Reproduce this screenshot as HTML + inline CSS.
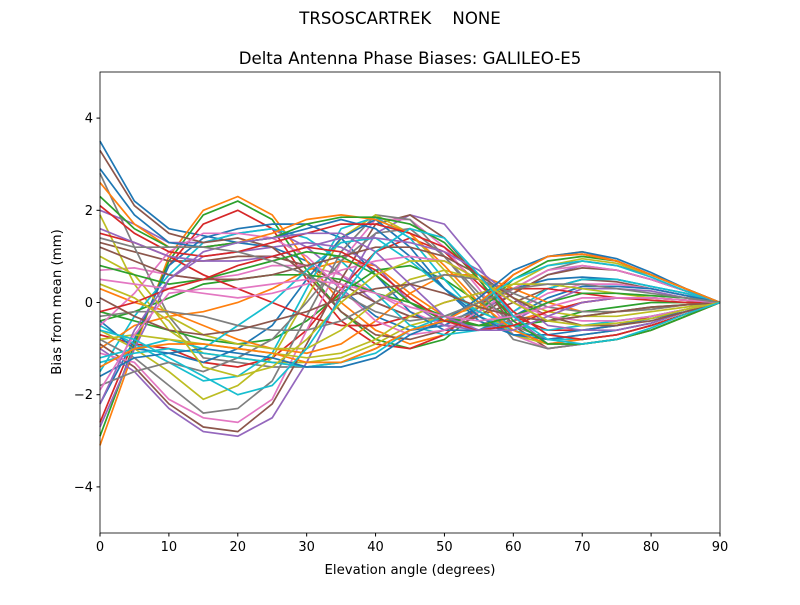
<!DOCTYPE html>
<html><head><meta charset="utf-8"><style>
body{margin:0;background:#fff}
svg{font-family:"DejaVu Sans","Liberation Sans",sans-serif}
</style></head><body>
<svg id="chart" width="800" height="600" viewBox="0 0 800 600">
<rect width="800" height="600" fill="#fff"/>
<text x="400" y="24" text-anchor="middle" font-size="16.6" style="white-space:pre">TRSOSCARTREK    NONE</text>
<text x="410" y="64" text-anchor="middle" font-size="16.6">Delta Antenna Phase Biases: GALILEO-E5</text>
<g id="plot"></g>
<g id="axes"></g>
<text x="410" y="574" text-anchor="middle" font-size="13.3">Elevation angle (degrees)</text>
<text transform="translate(61,302) rotate(-90)" text-anchor="middle" font-size="13.3">Bias from mean (mm)</text>
</svg>
<script>
const elevations=[0,5,10,15,20,25,30,35,40,45,50,55,60,65,70,75,80,85,90];
const xTicks=[0,10,20,30,40,50,60,70,80,90];
const yTicks=[-4,-2,0,2,4];
const s1=[3.5,2.2,1.6,1.45,1.3,1.2,0.9,0.3,-0.3,-0.6,-0.5,-0.1,0.3,0.5,0.55,0.5,0.35,0.2,0];
const s2=[-3.1,-1.0,1.0,2.0,2.3,1.9,0.9,0.0,-0.6,-0.9,-0.7,-0.1,0.6,1.0,1.1,0.9,0.6,0.3,0];
const s3=[-2.9,-0.9,0.9,1.9,2.2,1.8,0.7,-0.2,-0.8,-1.0,-0.8,-0.2,0.5,0.9,1.0,0.9,0.6,0.3,0];
const s4=[-2.6,-0.8,0.8,1.7,2.0,1.6,0.5,-0.4,-0.9,-1.0,-0.7,-0.1,0.6,1.0,1.05,0.9,0.6,0.3,0];
const s5=[2.0,1.7,1.3,1.3,1.5,1.6,1.2,0.6,0.0,-0.3,-0.4,-0.2,0.2,0.6,0.8,0.7,0.5,0.25,0];
const s6=[1.3,1.1,0.9,0.9,1.0,1.0,0.8,0.4,0.0,-0.3,-0.4,-0.3,0.0,0.3,0.5,0.45,0.3,0.15,0];
const s7=[0.7,0.75,0.6,0.5,0.6,0.8,0.8,0.6,0.2,-0.2,-0.5,-0.5,-0.2,0.2,0.4,0.4,0.3,0.15,0];
const s8=[2.8,1.2,-0.3,-1.2,-1.3,-1.4,-1.4,-1.3,-1.0,-0.6,-0.4,-0.2,0.3,0.7,0.9,0.8,0.6,0.3,0];
const s9=[1.9,0.4,-0.6,-1.1,-1.2,-1.3,-1.3,-1.2,-0.9,-0.5,-0.3,-0.1,0.4,0.8,0.95,0.85,0.6,0.3,0];
const s10=[-1.5,-0.3,0.6,1.3,1.5,1.6,1.4,0.9,0.2,-0.5,-0.7,-0.6,-0.2,0.3,0.5,0.5,0.35,0.2,0];
const s11=[-2.2,-0.8,0.8,1.4,1.6,1.7,1.7,1.4,0.6,-0.2,-0.6,-0.6,-0.3,0.1,0.35,0.35,0.3,0.15,0];
const s12=[-1.0,-0.5,-0.3,-0.2,0.0,0.3,0.7,0.9,0.8,0.2,-0.3,-0.5,-0.4,-0.2,0.0,0.1,0.1,0.05,0];
const s13=[-0.2,-0.4,-0.6,-0.8,-0.9,-0.8,-0.4,0.2,0.7,0.8,0.5,0.0,-0.3,-0.4,-0.3,-0.2,-0.1,-0.05,0];
const s14=[-0.7,-0.9,-1.0,-1.3,-1.4,-1.2,-0.6,0.3,1.1,1.4,1.1,0.4,-0.3,-0.6,-0.6,-0.5,-0.3,-0.15,0];
const s15=[-1.0,-1.5,-2.3,-2.8,-2.9,-2.5,-1.3,0.2,1.5,1.9,1.7,0.8,-0.3,-0.9,-0.8,-0.7,-0.5,-0.25,0];
const s16=[-0.9,-1.4,-2.2,-2.7,-2.8,-2.2,-0.9,0.5,1.7,1.9,1.4,0.5,-0.5,-1.0,-0.9,-0.8,-0.6,-0.3,0];
const s17=[-1.1,-1.3,-2.1,-2.5,-2.6,-2.1,-0.6,0.9,1.8,1.8,1.2,0.3,-0.7,-1.0,-0.9,-0.8,-0.6,-0.3,0];
const s18=[-0.8,-1.2,-1.8,-2.4,-2.3,-1.7,-0.3,1.1,1.9,1.8,1.0,0.1,-0.8,-1.0,-0.9,-0.8,-0.6,-0.3,0];
const s19=[-0.6,-1.0,-1.5,-2.1,-1.8,-1.2,0.1,1.4,1.9,1.5,0.7,-0.1,-0.7,-0.9,-0.9,-0.8,-0.6,-0.3,0];
const s20=[-0.5,-0.9,-1.3,-1.7,-1.6,-1.1,0.3,1.6,1.85,1.4,0.5,-0.3,-0.6,-0.8,-0.8,-0.7,-0.5,-0.25,0];
const s21=[-0.4,-1.0,-1.1,-1.3,-1.0,-0.5,0.5,1.4,1.8,1.2,0.3,-0.4,-0.7,-0.7,-0.6,-0.5,-0.35,-0.2,0];
const s22=[0.3,0.0,-0.2,-0.5,-0.8,-1.0,-1.1,-0.9,-0.4,0.2,0.6,0.6,0.3,0.0,-0.2,-0.2,-0.15,-0.05,0];
const s23=[-0.4,-0.2,0.1,0.4,0.5,0.6,0.6,0.5,0.2,0.0,-0.3,-0.5,-0.5,-0.4,-0.2,-0.1,0,0,0];
const s24=[1.5,1.3,1.0,0.6,0.3,0.0,-0.3,-0.5,-0.5,-0.3,0.0,0.2,0.3,0.3,0.2,0.1,0.05,0.0,0];
const s25=[-2.7,-1.0,0.5,1.0,1.1,1.2,1.3,1.2,0.8,0.0,-0.5,-0.6,-0.4,0.0,0.3,0.3,0.25,0.1,0];
const s26=[3.3,2.1,1.5,1.3,1.4,1.2,0.6,-0.2,-0.7,-0.8,-0.6,-0.3,0.2,0.6,0.75,0.7,0.5,0.25,0];
const s27=[-0.5,0.2,1.1,1.5,1.5,1.4,1.0,0.3,-0.4,-0.7,-0.6,-0.2,0.3,0.7,0.8,0.7,0.5,0.25,0];
const s28=[-1.8,-1.5,-1.3,-1.5,-1.2,-0.8,0.0,0.9,1.5,1.6,1.0,0.2,-0.5,-0.8,-0.7,-0.6,-0.45,-0.2,0];
const s29=[1.0,0.6,-0.3,-0.7,-0.9,-1.0,-1.0,-0.6,0.0,0.5,0.7,0.5,0.1,-0.2,-0.3,-0.3,-0.2,-0.1,0];
const s30=[-1.2,-1.0,-0.8,-1.0,-0.5,0.0,0.7,1.3,1.4,0.9,0.3,-0.2,-0.5,-0.6,-0.5,-0.4,-0.3,-0.15,0];
const s31=[2.9,1.9,1.3,1.2,1.3,1.4,1.6,1.8,1.6,1.0,0.3,-0.3,-0.7,-0.8,-0.7,-0.6,-0.45,-0.2,0];
const s32=[2.6,1.7,1.2,1.2,1.3,1.5,1.8,1.9,1.8,1.5,0.8,0.0,-0.6,-0.9,-0.8,-0.7,-0.5,-0.25,0];
const s33=[2.3,1.6,1.2,1.2,1.3,1.4,1.7,1.85,1.85,1.7,1.3,0.5,-0.4,-0.9,-0.9,-0.8,-0.6,-0.3,0];
const s34=[2.1,1.5,1.1,1.0,1.1,1.3,1.5,1.7,1.7,1.5,1.2,0.6,-0.2,-0.7,-0.8,-0.7,-0.5,-0.25,0];
const s35=[1.6,1.3,1.0,0.9,0.9,1.0,1.2,1.4,1.4,1.3,1.1,0.7,0.1,-0.5,-0.6,-0.6,-0.45,-0.2,0];
const s36=[1.2,0.9,0.6,0.5,0.5,0.6,0.8,1.0,1.2,1.2,1.0,0.6,0.1,-0.3,-0.5,-0.5,-0.4,-0.2,0];
const s37=[0.5,0.4,0.3,0.2,0.1,0.2,0.4,0.7,0.9,1.0,0.9,0.5,0.0,-0.3,-0.4,-0.4,-0.3,-0.15,0];
const s38=[-0.3,-0.2,-0.2,-0.3,-0.5,-0.6,-0.6,-0.4,0.0,0.4,0.6,0.5,0.2,-0.1,-0.2,-0.2,-0.15,-0.05,0];
const s39=[-0.8,-0.7,-0.8,-0.9,-1.0,-1.1,-1.2,-1.1,-0.8,-0.3,0.0,0.2,0.4,0.4,0.3,0.2,0.1,0.05,0];
const s40=[-1.3,-1.1,-1.0,-1.1,-1.2,-1.3,-1.4,-1.3,-1.1,-0.6,-0.3,0.0,0.5,0.8,0.9,0.8,0.55,0.25,0];
const s41=[-1.6,-1.2,-1.1,-1.0,-1.1,-1.2,-1.4,-1.4,-1.2,-0.7,-0.4,0.1,0.7,1.0,1.1,0.95,0.65,0.3,0];
const s42=[-1.4,-1.0,-0.9,-0.9,-1.0,-1.1,-1.3,-1.3,-1.0,-0.6,-0.4,0.0,0.6,1.0,1.05,0.9,0.6,0.3,0];
const s43=[0.8,0.6,0.4,0.5,0.7,0.9,1.1,1.0,0.6,0.0,-0.4,-0.5,-0.3,0.0,0.2,0.2,0.15,0.1,0];
const s44=[-0.2,0.0,0.3,0.5,0.8,1.0,1.2,1.1,0.7,0.1,-0.4,-0.6,-0.5,-0.2,0.0,0.1,0.1,0.05,0];
const s45=[-2.2,-0.6,0.5,1.1,1.3,1.4,1.5,1.5,1.1,0.4,-0.3,-0.6,-0.6,-0.3,0.0,0.1,0.1,0.05,0];
const s46=[0.1,-0.3,-0.6,-0.7,-0.6,-0.4,-0.2,0.1,0.3,0.4,0.2,-0.1,-0.3,-0.4,-0.3,-0.2,-0.1,-0.05,0];
const s47=[-1.9,-0.7,0.2,0.3,0.3,0.4,0.5,0.4,0.2,-0.1,-0.3,-0.4,-0.3,-0.1,0.1,0.1,0.1,0.05,0];
const s48=[1.4,1.2,1.2,1.2,1.1,0.9,0.6,0.2,-0.2,-0.4,-0.3,0.0,0.3,0.4,0.4,0.3,0.2,0.1,0];
const s49=[0.4,0.1,-0.4,-1.4,-1.6,-1.4,-0.8,0.0,0.6,0.9,0.9,0.5,0.0,-0.4,-0.5,-0.45,-0.35,-0.15,0];
const s50=[-0.6,-0.8,-1.2,-1.6,-2.0,-1.8,-1.0,0.1,1.1,1.6,1.4,0.6,-0.3,-0.8,-0.9,-0.8,-0.55,-0.25,0];
const seriesList=[s1,s2,s3,s4,s5,s6,s7,s8,s9,s10,s11,s12,s13,s14,s15,s16,s17,s18,s19,s20,s21,s22,s23,s24,s25,s26,s27,s28,s29,s30,s31,s32,s33,s34,s35,s36,s37,s38,s39,s40,s41,s42,s43,s44,s45,s46,s47,s48,s49,s50];
const colors=["#1f77b4","#ff7f0e","#2ca02c","#d62728","#9467bd","#8c564b","#e377c2","#7f7f7f","#bcbd22","#17becf"];
const L=100,R=720,T=72,B=533,xmin=0,xmax=90,ymin=-5,ymax=5;
const xs=v=>L+(v-xmin)/(xmax-xmin)*(R-L);
const ys=v=>B-(v-ymin)/(ymax-ymin)*(B-T);
const NS="http://www.w3.org/2000/svg";
const plot=document.getElementById('plot'), axes=document.getElementById('axes');
seriesList.forEach((s,i)=>{
  const p=document.createElementNS(NS,'polyline');
  p.setAttribute('points',s.map((v,j)=>xs(elevations[j]).toFixed(1)+','+ys(v).toFixed(1)).join(' '));
  p.setAttribute('fill','none');p.setAttribute('stroke',colors[i%10]);p.setAttribute('stroke-width','1.7');
  
  
  plot.appendChild(p);
});
const frame=document.createElementNS(NS,'rect');
frame.setAttribute('x',L);frame.setAttribute('y',T);frame.setAttribute('width',R-L);frame.setAttribute('height',B-T);
frame.setAttribute('fill','none');frame.setAttribute('stroke','#000');frame.setAttribute('stroke-width','0.8');


axes.appendChild(frame);
xTicks.forEach(t=>{
  const x=xs(t);
  const l=document.createElementNS(NS,'line');
  l.setAttribute('x1',x);l.setAttribute('x2',x);l.setAttribute('y1',B);l.setAttribute('y2',B+3.5);l.setAttribute('stroke','#000');
  
  
  axes.appendChild(l);
  const tx=document.createElementNS(NS,'text');
  tx.setAttribute('x',x);tx.setAttribute('y',B+18);tx.setAttribute('text-anchor','middle');tx.setAttribute('font-size','13');
  tx.textContent=t;
  
  
  axes.appendChild(tx);
});
yTicks.forEach(t=>{
  const y=ys(t);
  const l=document.createElementNS(NS,'line');
  l.setAttribute('x1',L-3.5);l.setAttribute('x2',L);l.setAttribute('y1',y);l.setAttribute('y2',y);l.setAttribute('stroke','#000');
  
  
  axes.appendChild(l);
  const tx=document.createElementNS(NS,'text');
  tx.setAttribute('x',L-7);tx.setAttribute('y',y+4.5);tx.setAttribute('text-anchor','end');tx.setAttribute('font-size','13');
  tx.textContent=t<0?'\u2212'+(-t):String(t);
  
  
  axes.appendChild(tx);
});
</script>
</body></html>
